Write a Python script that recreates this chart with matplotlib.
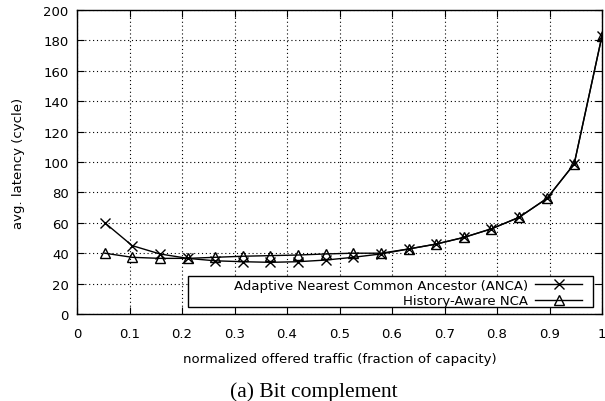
import matplotlib.pyplot as plt
from matplotlib.patches import Rectangle

# offered traffic (fraction of capacity)
traffic = [0.053, 0.105, 0.158, 0.211, 0.263, 0.316, 0.368, 0.421, 0.474, 0.526,
           0.579, 0.632, 0.684, 0.737, 0.789, 0.842, 0.895, 0.947, 1.0]

# average latency (cycles)
anca = [60, 45, 39.5, 36.6, 35, 34.4, 34, 34.4, 35.5, 37.3,
        39.5, 42.8, 46, 50.4, 56, 63.6, 76, 98.7, 183]
ha_nca = [40, 37.3, 36.6, 36.6, 37.3, 38, 38.4, 38.8, 39.5, 40,
          40, 42.8, 46, 50.4, 56, 63.6, 76, 98.7, 183]

x_ticks = [0, 0.1, 0.2, 0.3, 0.4, 0.5, 0.6, 0.7, 0.8, 0.9, 1]
x_labels = ["0", "0.1", "0.2", "0.3", "0.4", "0.5", "0.6", "0.7", "0.8", "0.9", "1"]
y_ticks = list(range(0, 201, 20))

fig = plt.figure(figsize=(6.05, 4.02), dpi=100)
ax = fig.add_axes([77 / 605, 1 - 315 / 402, 525 / 605, 304 / 402])

ax.plot(traffic, anca, color="black", lw=1.0, marker="x", ms=7.5, mew=1.0,
        label="Adaptive Nearest Common Ancestor (ANCA)")
ax.plot(traffic, ha_nca, color="black", lw=1.0, marker="^", ms=6.5, mew=1.0,
        mfc="none", label="History-Aware NCA")

ax.set_xlim(0, 1)
ax.set_ylim(0, 200)
ax.set_xticks(x_ticks)
ax.set_xticklabels(x_labels)
ax.set_yticks(y_ticks)
ax.tick_params(direction="in", top=True, right=True, length=5, labelsize=9.5)
ax.tick_params(axis="x", pad=9)
ax.tick_params(axis="y", pad=6)
ax.grid(True, color="black", linestyle=(0, (1, 2.5)), linewidth=0.8)
for s in ax.spines.values():
    s.set_linewidth(1.0)

ax.set_xlabel("normalized offered traffic (fraction of capacity)", fontsize=9.5, labelpad=9)
ax.set_ylabel("avg. latency (cycle)", fontsize=9.5, labelpad=13)

# legend box drawn separately, like gnuplot's wide key frame
ax.add_patch(Rectangle((0.211, 0.023), 0.772, 0.102, transform=ax.transAxes,
                       facecolor="white", edgecolor="black", lw=1.0, zorder=4))
leg = ax.legend(loc="lower right", markerfirst=False, fontsize=9.5, frameon=False,
                borderpad=0.0, labelspacing=0.2, handlelength=3.6, handletextpad=0.5,
                bbox_to_anchor=(0.975, 0.0))
leg.set_zorder(5)

fig.text(314 / 605, 1 - 392 / 402, "(a) Bit complement", ha="center", va="center",
         fontsize=15.5, family="Liberation Serif")

fig.savefig("out.png", dpi=100)
